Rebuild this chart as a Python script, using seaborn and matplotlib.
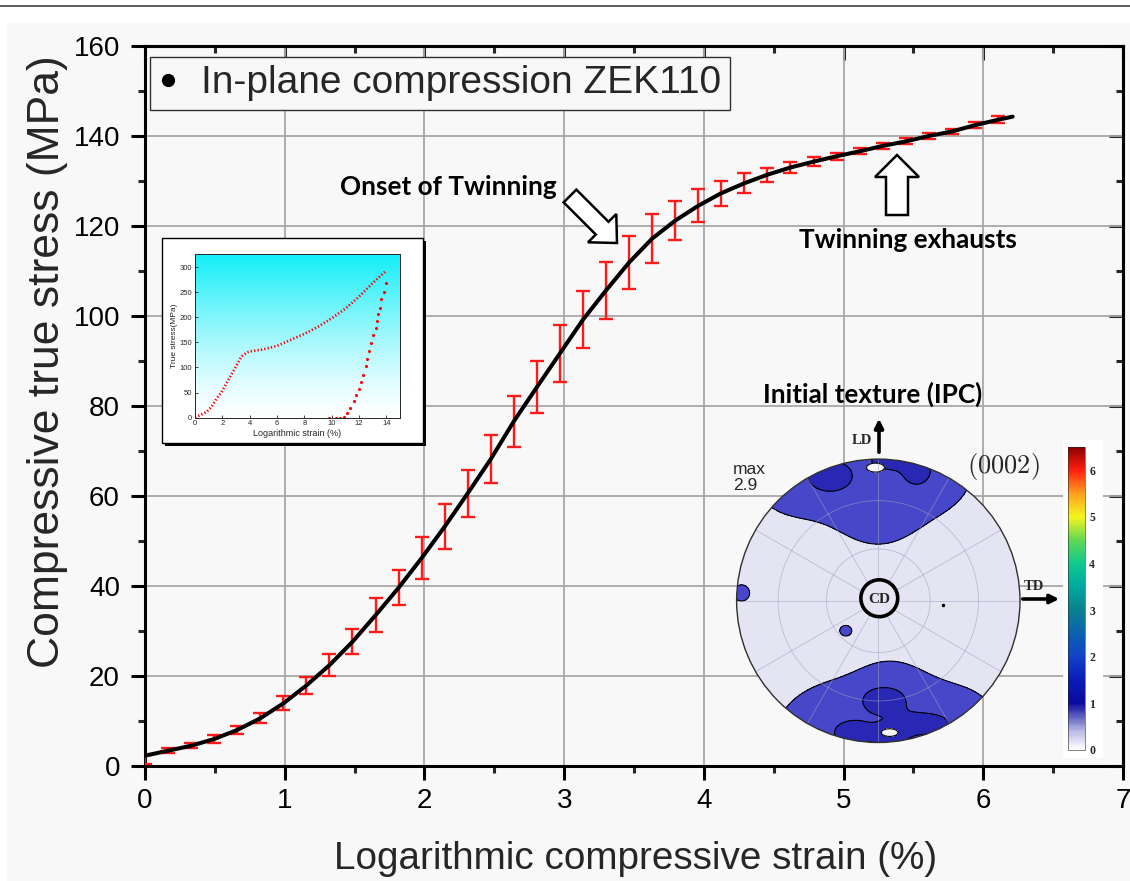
import numpy as np
import pandas as pd
import matplotlib
matplotlib.use("Agg")
import matplotlib.pyplot as plt
import seaborn as sns
from matplotlib.lines import Line2D
from matplotlib.patches import Rectangle, Circle, FancyArrow, FancyArrowPatch
from matplotlib.transforms import Affine2D
from matplotlib.colors import LinearSegmentedColormap, Normalize
from matplotlib.cm import ScalarMappable
from matplotlib.ticker import MultipleLocator

# ---------------- main curve (error-bar points) ----------------
strain_pts = [0.0, 0.165, 0.33, 0.495, 0.66, 0.825, 0.99, 1.155, 1.32, 1.485,
              1.65, 1.815, 1.98, 2.145, 2.31, 2.475, 2.64, 2.805, 2.97, 3.135,
              3.30, 3.465, 3.63, 3.795, 3.96, 4.125, 4.29, 4.455, 4.62, 4.785,
              4.95, 5.115, 5.28, 5.445, 5.61, 5.775, 5.94, 6.105]
stress_mean = [1.5, 3.4, 4.5, 6.0, 8.0, 10.6, 13.9, 17.9, 22.4, 27.6,
               33.5, 39.6, 46.2, 53.2, 60.6, 68.2, 76.6, 84.2, 91.7, 99.2,
               105.7, 111.9, 117.2, 121.2, 124.5, 127.3, 129.5, 131.4, 133.0, 134.3,
               135.5, 136.6, 137.8, 138.8, 140.0, 141.0, 142.4, 143.6]
stress_err = [1.0, 0.5, 0.6, 0.8, 0.9, 1.1, 1.55, 1.95, 2.45, 2.8,
              3.8, 3.85, 4.6, 5.0, 5.2, 5.4, 5.7, 5.85, 6.3, 6.4,
              6.3, 5.85, 5.4, 4.4, 3.7, 2.8, 2.2, 1.6, 1.3, 0.95,
              0.8, 0.7, 0.65, 0.65, 0.6, 0.6, 0.7, 0.75]
# mean curve (black line)
curve_strain = [0.0, 0.165, 0.33, 0.495, 0.66, 0.825, 0.99, 1.155, 1.32, 1.485,
                1.65, 1.815, 1.98, 2.145, 2.31, 2.475, 2.64, 2.805, 2.97, 3.135,
                3.30, 3.465, 3.63, 3.795, 3.96, 4.125, 4.29, 4.455, 4.62, 4.785,
                4.95, 5.115, 5.28, 5.445, 5.61, 5.775, 5.94, 6.105, 6.21]
curve_stress = [2.3, 3.4, 4.5, 6.0, 8.0, 10.6, 13.9, 17.9, 22.4, 27.6,
                33.5, 39.6, 46.2, 53.2, 60.6, 68.2, 76.6, 84.2, 91.7, 99.2,
                105.7, 111.9, 117.2, 121.2, 124.5, 127.3, 129.5, 131.4, 133.0, 134.3,
                135.5, 136.6, 137.8, 138.8, 140.0, 141.0, 142.4, 143.6, 144.3]
x_ticks = [0, 1, 2, 3, 4, 5, 6, 7]
y_ticks = [0, 20, 40, 60, 80, 100, 120, 140, 160]

# ---------------- inset (load / unload) ----------------
inset_load_strain = [0.0, 0.3, 0.6, 0.86, 1.22, 1.59, 1.96, 2.5, 3.0, 3.4, 3.8, 4.0,
                     5.0, 6.0, 7.0, 8.0, 9.0, 10.0, 11.0, 12.0, 13.0, 14.0]
inset_load_stress = [1, 4, 8, 12, 22, 38.6, 52, 78, 102, 122, 130, 132,
                     136, 143, 155, 167, 181, 198, 217, 241, 268, 293]
inset_unload_strain = [13.94, 13.81, 13.64, 13.52, 13.40, 13.33, 13.23, 13.03, 12.86, 12.76,
                       12.62, 12.49, 12.30, 12.15, 11.98, 11.78, 11.61, 11.37, 11.12, 10.88,
                       10.64, 10.30, 9.78]
inset_unload_stress = [268, 251, 236, 219, 206, 193, 178, 164, 148, 132,
                       116, 102, 86, 72, 57, 45, 34, 20, 10, 2,
                       0, 0, 0]

# ---------------- (0002) pole figure components ----------------
# level 1 = medium intensity, 2 = higher, 3 = peak
pole_x = [0.0, -0.62, 0.45, -0.10,
          0.08, 0.0, 0.55, -0.5, -0.3,
          -0.965, -0.23,
          -0.34, 0.27, 0.06,
          0.04, -0.2, 0.35, 0.08,
          -0.02, 0.08]
pole_y = [0.62, 0.85, 0.95, 1.0,
          -0.64, -1.0, -0.83, -0.95, -0.8,
          0.055, -0.21,
          0.88, 0.92, 0.99,
          -0.7, -0.93, -0.87, -0.95,
          0.94, -0.93]
pole_sx = [0.22, 0.30, 0.25, 0.35,
           0.20, 0.45, 0.28, 0.20, 0.20,
           0.058, 0.04,
           0.16, 0.10, 0.09,
           0.15, 0.12, 0.15, 0.10,
           0.07, 0.065]
pole_sy = [0.22, 0.27, 0.30, 0.30,
           0.20, 0.30, 0.22, 0.20, 0.20,
           0.058, 0.035,
           0.11, 0.10, 0.05,
           0.09, 0.08, 0.07, 0.06,
           0.035, 0.03]
pole_w = [1.25, 1.25, 1.3, 1.2,
          1.3, 1.15, 1.3, 1.1, 0.9,
          1.6, 1.6,
          1.6, 1.6, 1.6,
          1.6, 1.5, 1.6, 1.6,
          1.5, 1.5]
pole_level = [1, 1, 1, 1,
              1, 1, 1, 1, 1,
              1, 1,
              2, 2, 2,
              2, 2, 2, 2,
              3, 3]
level_colors = {1: '#4747c9', 2: '#2828b4', 3: '#f6f6fb'}
cbar_ticks = [0, 1, 2, 3, 4, 5, 6]
cbar_stops = [0.0, 0.4, 1.0, 1.5, 2.0, 2.5, 3.0, 3.5, 4.0, 4.5, 5.0, 5.5, 6.0, 6.5]
cbar_colors = ['#ffffff', '#b8b8e6', '#0a0a9c', '#0a1cb8', '#1242c8', '#0a62b0', '#0a8290',
               '#00a8a0', '#12c890', '#60d850', '#f4f420', '#ffa020', '#ff2010', '#8a0000']

# ---------------- figure ----------------
W, H = 1130, 881
sns.set_theme(style='ticks')
plt.rcParams['font.family'] = ['Liberation Sans', 'DejaVu Sans']

fig = plt.figure(figsize=(W / 100, H / 100), dpi=100, facecolor='white')
PX = Affine2D().scale(1 / W, -1 / H).translate(0, 1) + fig.transFigure


def fig_rect(x0, y0, x1, y1):
    return [x0 / W, 1 - y1 / H, (x1 - x0) / W, (y1 - y0) / H]


fig.add_artist(Rectangle((7, 23), W - 7, H - 23, transform=PX, facecolor='#f8f8f8',
                         edgecolor='none', zorder=-10))
fig.add_artist(Line2D([0, W], [6, 6], transform=PX, color='#404040', lw=1.2, zorder=-9))

# main axes
ax = fig.add_axes(fig_rect(145, 46, 1123, 766))
ax.set_facecolor('#f8f8f8')
ax.errorbar(strain_pts, stress_mean, yerr=stress_err, fmt='none', ecolor='#ff1a1a',
            elinewidth=1.7, capsize=4.8, capthick=1.7, zorder=3)
sns.lineplot(x=curve_strain, y=curve_stress, color='black', lw=2.9, ax=ax, sort=False,
             zorder=4)
ax.set_xlim(0, 7)
ax.set_ylim(0, 160)
ax.set_xticks(x_ticks)
ax.set_yticks(y_ticks)
ax.xaxis.set_minor_locator(MultipleLocator(0.5))
ax.yaxis.set_minor_locator(MultipleLocator(10))
ax.grid(True, which='major', color='#a8a8a8', lw=1.3)
ax.set_axisbelow(True)
for s in ax.spines.values():
    s.set_linewidth(2.2)
    s.set_color('black')
ax.tick_params(which='major', direction='out', length=10, width=2.2, labelsize=20,
               top=False, right=False, pad=6, colors='black')
ax.tick_params(which='minor', direction='out', length=5, width=2.2, top=False, right=False)
ax.tick_params(axis='y', pad=8)
secx = ax.secondary_xaxis('top')
secx.set_xticks(x_ticks)
secx.xaxis.set_minor_locator(MultipleLocator(0.5))
secx.tick_params(which='major', direction='in', length=10, width=2.2, labeltop=False)
secx.tick_params(which='minor', direction='in', length=5, width=2.2)
secx.spines['top'].set_linewidth(2.2)
secy = ax.secondary_yaxis('right')
secy.set_yticks(y_ticks)
secy.yaxis.set_minor_locator(MultipleLocator(10))
secy.tick_params(which='major', direction='in', length=10, width=2.2, labelright=False)
secy.tick_params(which='minor', direction='in', length=5, width=2.2)
secy.spines['right'].set_linewidth(2.2)

ax.set_xlabel('Logarithmic compressive strain (%)', fontsize=27.8)
ax.set_ylabel('Compressive true stress (MPa)', fontsize=32)
ax.xaxis.set_label_coords(0.5015, -0.104)
ax.yaxis.set_label_coords(-0.079, 0.561)

handle = Line2D([], [], marker='o', color='black', ls='none', markersize=8.5)
leg = ax.legend([handle], ['In-plane compression ZEK110'], loc='upper left',
                bbox_to_anchor=(0.005, 0.985), borderaxespad=0, fontsize=28,
                frameon=True, fancybox=False, framealpha=1, facecolor='#f8f8f8',
                edgecolor='#303030', handlelength=0.5, handletextpad=0.6,
                borderpad=0.22)
leg.get_frame().set_linewidth(1.0)

# annotations with block arrows
bold_font = dict(family=['Lato', 'DejaVu Sans'], weight='bold', fontsize=18.8, color='black')
fig.text(448, 187, 'Onset of Twinning', transform=PX, ha='center', va='center', **bold_font)
fig.text(908, 240, 'Twinning exhausts', transform=PX, ha='center', va='center', **bold_font)
fig.text(873, 394, 'Initial texture (IPC)', transform=PX, ha='center', va='center', zorder=6,
         **bold_font)
fig.add_artist(FancyArrow(570, 196, 47, 47, width=18, head_width=40, head_length=21,
                          length_includes_head=True, transform=PX, facecolor='white',
                          edgecolor='black', lw=1.8, zorder=6))
fig.add_artist(FancyArrow(897, 215, 0, -60, width=22, head_width=44, head_length=22,
                          length_includes_head=True, transform=PX, facecolor='white',
                          edgecolor='black', lw=1.8, zorder=6))

# ---------------- inset ----------------
fig.add_artist(Rectangle((164.5, 241.3), 261.3, 204.7, transform=PX, facecolor='black',
                         edgecolor='none', zorder=2))
fig.add_artist(Rectangle((161.7, 238.3), 261.3, 204.7, transform=PX, facecolor='white',
                         edgecolor='black', lw=1.0, zorder=2.1))
axi = fig.add_axes(fig_rect(195, 254, 400, 417.7), zorder=3)
grad = np.linspace(0, 1, 256)[:, None] ** 1.3
axi.imshow(grad, extent=[0, 15, 0, 326], origin='lower', aspect='auto',
           cmap=LinearSegmentedColormap.from_list('cy', ['#ffffff', '#12eef8']), zorder=0)
sns.lineplot(x=inset_load_strain, y=inset_load_stress, color='red', lw=1.9,
             ls=(0, (0.5, 0.8)), ax=axi, sort=False, zorder=2)
sns.scatterplot(x=inset_unload_strain, y=inset_unload_stress, color='red', s=5,
                linewidth=0, ax=axi, zorder=2)
axi.set_xlim(0, 15)
axi.set_ylim(0, 326)
axi.set_xticks([0, 2, 4, 6, 8, 10, 12, 14])
axi.set_yticks([0, 50, 100, 150, 200, 250, 300])
axi.tick_params(labelsize=5.5, direction='in', length=2, width=0.6, pad=2)
for s in axi.spines.values():
    s.set_linewidth(0.7)
axi.set_xlabel('Logarithmic strain (%)', fontsize=6.5, labelpad=1)
axi.set_ylabel('True stress(MPa)', fontsize=6, labelpad=1)
axi.grid(False)

# ---------------- pole figure ----------------
cx, cy, R = 878.3, 600.8, 141.7
axp = fig.add_axes(fig_rect(cx - 1.05 * R, cy - 1.05 * R, cx + 1.05 * R, cy + 1.05 * R), zorder=4)
axp.set_xlim(-1.05, 1.05)
axp.set_ylim(-1.05, 1.05)
axp.axis('off')
axp.patch.set_alpha(0)
disk = Circle((0, 0), 1.0, facecolor='#e4e4f3', edgecolor='none', zorder=0)
axp.add_patch(disk)
clip = Circle((0, 0), 1.0, transform=axp.transData)
g = np.linspace(-1.02, 1.02, 521)
GX, GY = np.meshgrid(g, g)
for lev in (1, 2, 3):
    F = np.zeros_like(GX)
    for px_, py_, sx_, sy_, w_, l_ in zip(pole_x, pole_y, pole_sx, pole_sy, pole_w, pole_level):
        if l_ == lev:
            F += w_ * np.exp(-((GX - px_) ** 2) / (2 * sx_ ** 2) - ((GY - py_) ** 2) / (2 * sy_ ** 2))
    cf = axp.contourf(GX, GY, F, levels=[1.0, 1e9], colors=[level_colors[lev]], zorder=lev)
    cf.set_clip_path(clip)
    cl = axp.contour(GX, GY, F, levels=[1.0], colors='black', linewidths=0.8, zorder=lev + 0.5)
    cl.set_clip_path(clip)
# polar grid
for rr in (0.366, 0.707):
    axp.add_patch(Circle((0, 0), rr, fill=False, edgecolor='#a0a0c0', lw=0.6, alpha=0.6, zorder=5))
for ang in np.arange(0, 360, 30):
    t = np.deg2rad(ang)
    axp.plot([0, np.cos(t)], [0, np.sin(t)], color='#a0a0c0', lw=0.6, alpha=0.6, zorder=5)
axp.add_patch(Circle((0, 0), 1.0, fill=False, edgecolor='#303030', lw=1.0, zorder=6))
axp.add_patch(Circle((0.007, 0.018), 0.13, facecolor='#e4e4f3', edgecolor='black', lw=2.6, zorder=7))
axp.text(0.007, 0.012, 'CD', ha='center', va='center', fontsize=11, weight='bold',
         family=['Liberation Serif', 'DejaVu Serif'], zorder=8)
axp.plot([0.46], [-0.03], marker='o', ms=1.5, color='black', zorder=7)

serif_b = dict(family=['Liberation Serif', 'DejaVu Serif'], weight='bold', fontsize=10.5)
fig.text(733, 462, 'max\n2.9', transform=PX, ha='left', va='top', fontsize=12.5,
         linespacing=1.05, zorder=6)
fig.text(1003, 466, r'$(0002)$', transform=PX, ha='center', va='center', fontsize=19,
         math_fontfamily='cm', zorder=6)
fig.text(862, 440, 'LD', transform=PX, ha='center', va='center', zorder=6, **serif_b)
fig.text(1034, 587, 'TD', transform=PX, ha='center', va='center', zorder=6, **serif_b)
fig.add_artist(FancyArrowPatch((879, 455), (879, 416), transform=PX, arrowstyle='-|>',
                               mutation_scale=13, lw=2.6, color='black', zorder=6))
fig.add_artist(FancyArrowPatch((1020, 599), (1062, 599), transform=PX, arrowstyle='-|>',
                               mutation_scale=13, lw=2.6, color='black', zorder=6))

# colour bar
fig.add_artist(Rectangle((1063, 440), 40, 318, transform=PX, facecolor='white',
                         edgecolor='none', zorder=3))
pf_cmap = LinearSegmentedColormap.from_list(
    'pf', list(zip([s / cbar_stops[-1] for s in cbar_stops], cbar_colors)))
cax = fig.add_axes(fig_rect(1068, 446.7, 1085, 750), zorder=4)
cb = fig.colorbar(ScalarMappable(norm=Normalize(0, 6.5), cmap=pf_cmap), cax=cax, ticks=cbar_ticks)
cb.outline.set_linewidth(0.4)
cax.tick_params(length=0, pad=3, labelsize=8.5)
for t in cax.get_yticklabels():
    t.set_fontweight('bold')
    t.set_fontfamily(['Liberation Serif', 'DejaVu Serif'])

fig.savefig('out.png', dpi=100, facecolor=fig.get_facecolor())
